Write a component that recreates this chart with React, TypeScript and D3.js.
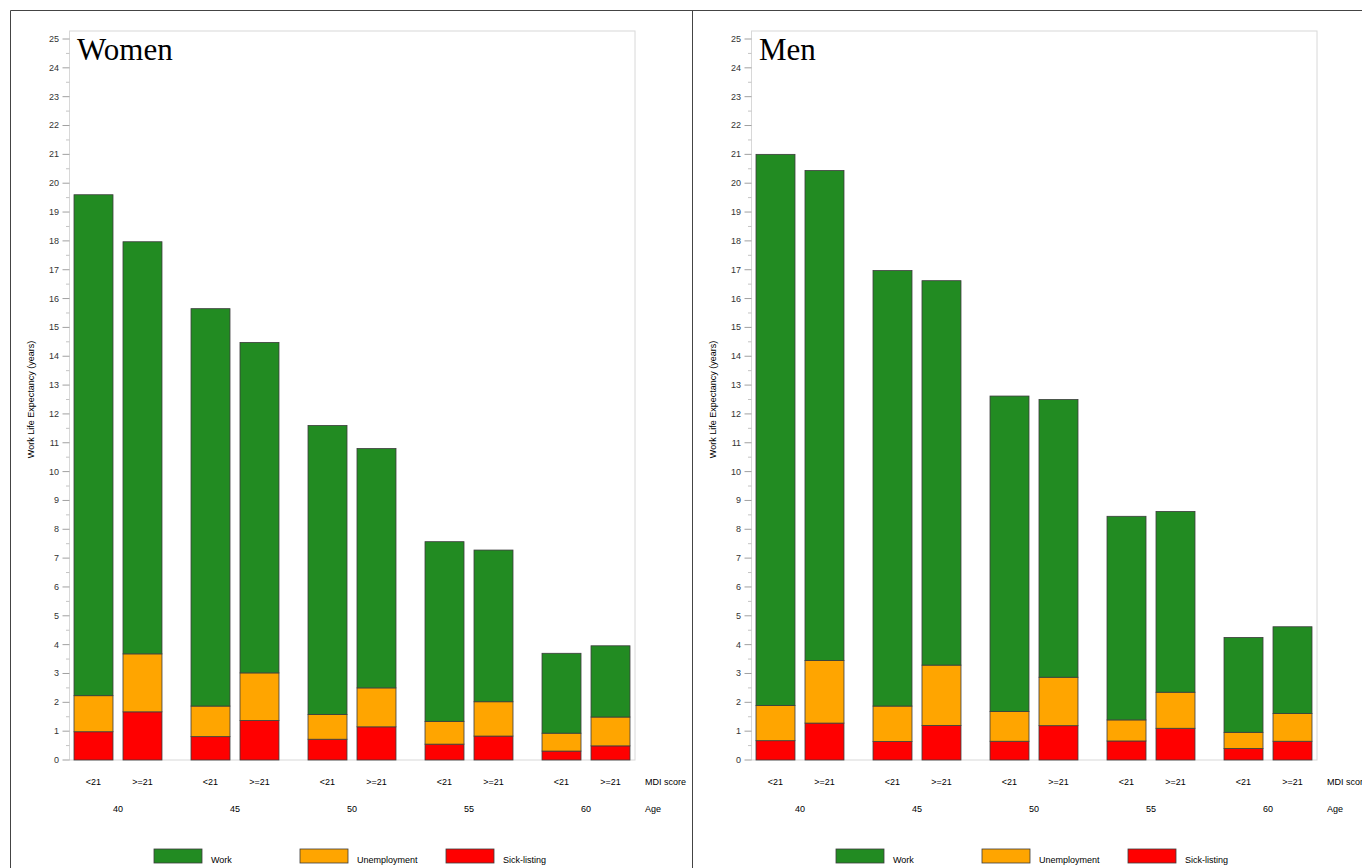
import * as d3 from 'd3';

// chart data
const AGES = ['40', '45', '50', '55', '60'];
const MDI = ['<21', '>=21'];
const Y_TICKS = d3.range(0, 26);

// values in order: age 40 <21, 40 >=21, 45 <21, ...
const WOMEN_SICK = [0.98, 1.67, 0.81, 1.37, 0.72, 1.15, 0.55, 0.83, 0.31, 0.49];
const WOMEN_UNEMP = [1.25, 2.01, 1.06, 1.65, 0.86, 1.35, 0.79, 1.19, 0.62, 1.0];
const WOMEN_WORK = [17.37, 14.29, 13.78, 11.46, 10.02, 8.3, 6.23, 5.26, 2.77, 2.47];

const MEN_SICK = [0.67, 1.28, 0.64, 1.2, 0.65, 1.19, 0.66, 1.1, 0.4, 0.65];
const MEN_UNEMP = [1.22, 2.17, 1.23, 2.09, 1.03, 1.68, 0.73, 1.25, 0.56, 0.96];
const MEN_WORK = [19.11, 16.99, 15.1, 13.33, 10.94, 9.63, 7.06, 6.27, 3.29, 3.01];

const SERIES = ['Sick-listing', 'Unemployment', 'Work'];
const LEGEND = ['Work', 'Unemployment', 'Sick-listing'];
const COLORS: Record<string, string> = {
  Work: '#228b22',
  Unemployment: '#ffa500',
  'Sick-listing': '#ff0000',
};

const W = 1362;
const H = 868;
const PANEL_W = 682;
const FRAME = { left: 69.5, right: 635, top: 31, bottom: 760 };
const SANS = '"Liberation Sans", Arial, sans-serif';

type PanelProps = {
  offset: number;
  title: string;
  sick: number[];
  unemp: number[];
  work: number[];
};

const Panel = ({ offset, title, sick, unemp, work }: PanelProps) => {
  const rows = sick.map((s, i) => ({
    age: AGES[Math.floor(i / 2)],
    mdi: MDI[i % 2],
    'Sick-listing': s,
    Unemployment: unemp[i],
    Work: work[i],
  }));

  const stacked = d3.stack<any>().keys(SERIES)(rows);

  const xGroup = d3.scaleBand().domain(AGES).range([74, 630]).paddingInner(0.248).paddingOuter(0);
  const xBar = d3.scaleBand().domain(MDI).range([0, xGroup.bandwidth()]).paddingInner(0.204).paddingOuter(0);
  const y = d3.scaleLinear().domain([0, 25]).range([FRAME.bottom, 39]);

  const minor = d3.range(0.5, 25, 1);

  return (
    <g transform={`translate(${offset},0)`}>
      {/* plot frame */}
      <rect
        x={FRAME.left}
        y={FRAME.top}
        width={FRAME.right - FRAME.left}
        height={FRAME.bottom - FRAME.top}
        fill="none"
        stroke="#d8d8d8"
        strokeWidth={1}
      />
      <text x={77} y={60} fontFamily='"Liberation Serif", "Times New Roman", serif' fontSize={31} fill="#000">
        {title}
      </text>

      {/* y axis */}
      {Y_TICKS.map((t) => (
        <g key={t}>
          <line x1={62.5} x2={FRAME.left} y1={y(t)} y2={y(t)} stroke="#a0a0a0" />
          <text
            x={59}
            y={y(t)}
            dy="0.33em"
            textAnchor="end"
            fontFamily={SANS}
            fontSize={9}
            fill="#333"
          >
            {t}
          </text>
        </g>
      ))}
      {minor.map((t) => (
        <line key={t} x1={66} x2={FRAME.left} y1={y(t)} y2={y(t)} stroke="#c4c4c4" />
      ))}
      <text
        transform={`translate(34,${(y(0) + y(25)) / 2}) rotate(-90)`}
        textAnchor="middle"
        fontFamily={SANS}
        fontSize={9}
        fill="#000"
      >
        Work Life Expectancy (years)
      </text>

      {/* bars */}
      {stacked.map((layer) => (
        <g key={layer.key} fill={COLORS[layer.key]}>
          {layer.map((d, i) => {
            const r = rows[i];
            const x = (xGroup(r.age) ?? 0) + (xBar(r.mdi) ?? 0);
            return (
              <rect
                key={i}
                x={x}
                y={y(d[1])}
                width={xBar.bandwidth()}
                height={y(d[0]) - y(d[1])}
                stroke="#3c3c3c"
                strokeWidth={0.8}
              />
            );
          })}
        </g>
      ))}

      {/* category labels */}
      {rows.map((r, i) => (
        <text
          key={i}
          x={(xGroup(r.age) ?? 0) + (xBar(r.mdi) ?? 0) + xBar.bandwidth() / 2}
          y={785}
          textAnchor="middle"
          fontFamily={SANS}
          fontSize={9}
          fill="#000"
        >
          {r.mdi}
        </text>
      ))}
      {AGES.map((a) => (
        <text
          key={a}
          x={(xGroup(a) ?? 0) + xGroup.bandwidth() / 2}
          y={812}
          textAnchor="middle"
          fontFamily={SANS}
          fontSize={9}
          fill="#000"
        >
          {a}
        </text>
      ))}
      <text x={645} y={785} fontFamily={SANS} fontSize={9} fill="#000">
        MDI score
      </text>
      <text x={645} y={812} fontFamily={SANS} fontSize={9} fill="#000">
        Age
      </text>

      {/* legend */}
      {LEGEND.map((k, i) => (
        <g key={k} transform={`translate(${154 + i * 146},849)`}>
          <rect x={0} y={0} width={48} height={14} fill={COLORS[k]} stroke="#3c3c3c" strokeWidth={0.8} />
          <text x={57} y={13.5} fontFamily={SANS} fontSize={9} fill="#000">
            {k}
          </text>
        </g>
      ))}
    </g>
  );
};

export default function App() {
  return (
    <div style={{ position: 'absolute', left: 0, top: 0 }}>
      <svg width={W} height={H} style={{ display: 'block', background: '#fff' }}>
        <Panel offset={0} title="Women" sick={WOMEN_SICK} unemp={WOMEN_UNEMP} work={WOMEN_WORK} />
        <Panel offset={PANEL_W} title="Men" sick={MEN_SICK} unemp={MEN_UNEMP} work={MEN_WORK} />
        {/* outer frame and panel divider */}
        <line x1={10.5} x2={W} y1={10.5} y2={10.5} stroke="#444" />
        <line x1={10.5} x2={10.5} y1={10.5} y2={H} stroke="#444" />
        <line x1={692.5} x2={692.5} y1={10.5} y2={H} stroke="#444" />
      </svg>
    </div>
  );
}
